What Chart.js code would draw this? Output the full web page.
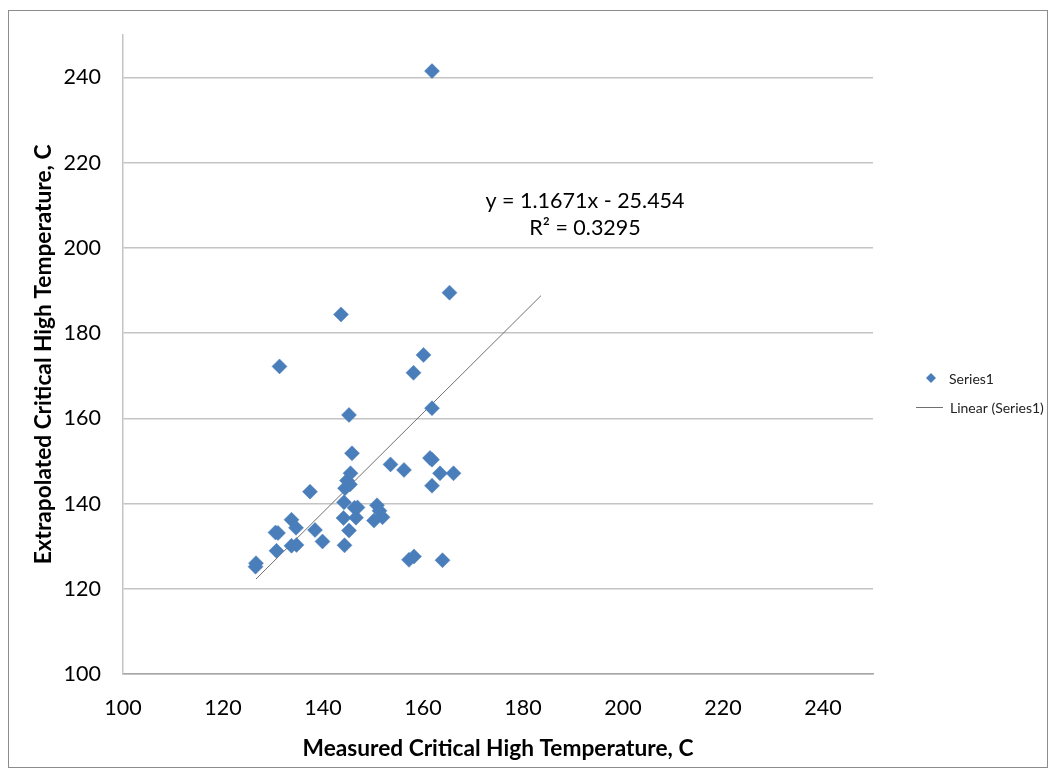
<!DOCTYPE html>
<html>
<head>
<meta charset="utf-8">
<script src="https://cdn.jsdelivr.net/npm/chart.js@4.4.1/dist/chart.umd.min.js"></script>
<style>
  html, body { margin: 0; padding: 0; background: #fff; }
  #wrap { position: relative; width: 1050px; height: 770px; }
  #frame { position: absolute; left: 8px; top: 10px; width: 1040px; height: 758px;
           border: 1px solid #8c8c8c; box-sizing: border-box; pointer-events: none; }
</style>
</head>
<body>
<div id="wrap">
  <canvas id="chart" width="1050" height="770"></canvas>
  <div id="frame"></div>
</div>
<script>
// measured vs extrapolated critical high temperature (C)
const measured = [
  161.8, 165.3, 143.6, 131.3, 160.1, 158.1, 145.2, 161.8, 145.8, 153.5,
  156.2, 161.4, 161.8, 163.4, 166.1, 161.8, 145.5, 144.8, 145.4, 144.4,
  137.4, 144.2, 146.3, 146.9, 150.8, 151.3, 151.9, 150.2, 144.1, 146.6,
  133.7, 134.6, 130.5, 131.0, 138.4, 145.2, 139.9, 130.7, 133.7, 134.7,
  144.3, 126.6, 126.5, 157.2, 158.2, 163.9
];
const extrapolated = [
  241.5, 189.5, 184.4, 172.2, 174.9, 170.7, 160.8, 162.4, 151.8, 149.2,
  147.9, 150.7, 150.3, 147.1, 147.1, 144.2, 147.1, 145.4, 144.5, 143.6,
  142.8, 140.3, 139.0, 139.1, 139.6, 138.3, 136.8, 136.0, 136.6, 136.7,
  136.2, 134.3, 133.2, 133.1, 133.8, 133.7, 131.1, 128.9, 130.1, 130.3,
  130.2, 126.0, 125.2, 126.8, 127.6, 126.7
];

// linear trendline end points
const trendX = [126.6, 183.6];
const trendY = [122.3, 188.8];

const xTicks = [100, 120, 140, 160, 180, 200, 220, 240];
const yTicks = [100, 120, 140, 160, 180, 200, 220, 240];
const equationLines = ["y = 1.1671x - 25.454", "R\u00B2 = 0.3295"];

const FONT = "Lato, 'Open Sans', sans-serif";
const BLUE = "#4a7ebb";

const extras = {
  id: "extras",
  afterDraw(chart) {
    const ctx = chart.ctx;
    const xs = chart.scales.x, ys = chart.scales.y;
    ctx.save();
    // trendline equation
    ctx.fillStyle = "#000";
    ctx.font = "21.5px " + FONT;
    ctx.textAlign = "center";
    ctx.textBaseline = "middle";
    const ex = xs.getPixelForValue(192.4);
    ctx.fillText(equationLines[0], ex, ys.getPixelForValue(211));
    ctx.fillText(equationLines[1], ex, ys.getPixelForValue(204.7));

    // legend
    ctx.font = "14px " + FONT;
    ctx.textAlign = "left";
    ctx.fillStyle = BLUE;
    ctx.beginPath();
    ctx.moveTo(931, 373); ctx.lineTo(936, 378); ctx.lineTo(931, 383); ctx.lineTo(926, 378);
    ctx.closePath();
    ctx.fill();
    ctx.fillStyle = "#222";
    ctx.fillText("Series1", 949, 379);
    ctx.strokeStyle = "#707070";
    ctx.lineWidth = 1;
    ctx.beginPath();
    ctx.moveTo(916, 407.5); ctx.lineTo(943, 407.5);
    ctx.stroke();
    ctx.fillText("Linear (Series1)", 950, 408);
    ctx.restore();
  }
};

new Chart(document.getElementById("chart"), {
  type: "scatter",
  data: {
    datasets: [
      {
        label: "Series1",
        data: measured.map((x, i) => ({ x: x, y: extrapolated[i] })),
        pointStyle: "rectRot",
        pointRadius: 7.5,
        pointHoverRadius: 7.5,
        backgroundColor: BLUE,
        borderColor: BLUE,
        borderWidth: 0.5
      },
      {
        label: "Linear (Series1)",
        data: trendX.map((x, i) => ({ x: x, y: trendY[i] })),
        showLine: true,
        pointRadius: 0,
        borderColor: "#707070",
        borderWidth: 1
      }
    ]
  },
  options: {
    responsive: false,
    animation: false,
    layout: { padding: { left: 0, right: 177, top: 33, bottom: 0 } },
    plugins: { legend: { display: false }, tooltip: { enabled: false } },
    scales: {
      x: {
        type: "linear", min: 100, max: 250,
        afterBuildTicks: s => { s.ticks = xTicks.map(v => ({ value: v })); },
        afterFit: s => { s.height = 96; },
        grid: { color: "rgba(0,0,0,0)", drawTicks: false },
        border: { color: "#a6a6a6", width: 1.5 },
        ticks: { font: { family: FONT, size: 21.5 }, color: "#000", padding: 21, maxRotation: 0 },
        title: { display: true, text: "Measured Critical High Temperature, C",
                 font: { family: FONT, size: 22.7, weight: "bold" }, color: "#000", padding: { top: 4, bottom: 8 } }
      },
      y: {
        type: "linear", min: 100, max: 250,
        afterBuildTicks: s => { s.ticks = yTicks.map(v => ({ value: v })); },
        afterFit: s => { s.width = 123; },
        grid: { color: "#c4c4c4", lineWidth: 1.5, drawTicks: false },
        border: { color: "#c4c4c4", width: 1.5 },
        ticks: { font: { family: FONT, size: 21.5 }, color: "#000", padding: 22 },
        title: { display: true, text: "Extrapolated Critical High Temperature, C",
                 font: { family: FONT, size: 22.7, weight: "bold" }, color: "#000", padding: { top: 30, bottom: 0 } }
      }
    }
  },
  plugins: [extras]
});
</script>
</body>
</html>
